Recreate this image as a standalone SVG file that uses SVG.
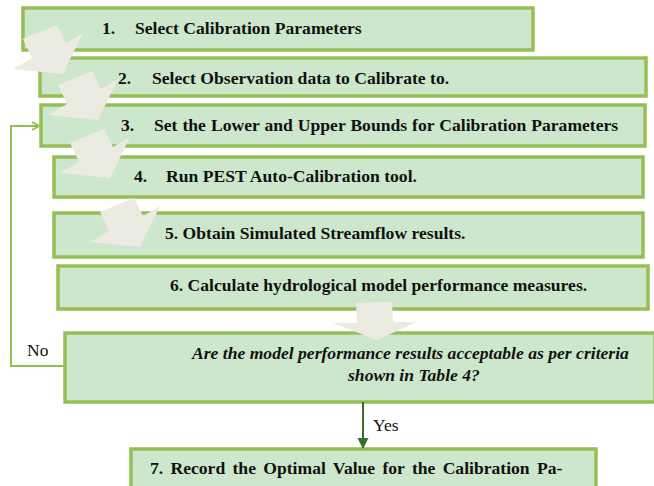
<svg xmlns="http://www.w3.org/2000/svg" width="654" height="486" viewBox="0 0 654 486">
<style>
.box{fill:#cde7cd;stroke:#95bf55;stroke-width:3.5}
.t{font-family:"Liberation Serif","Times New Roman",serif;font-size:17.6px;font-weight:bold;fill:#111}
.ti{font-style:italic}
.lbl{font-family:"Liberation Serif","Times New Roman",serif;font-size:17.5px;fill:#111}
.barrow{fill:#ecebe2}
.fb{fill:none;stroke:#95bf55;stroke-width:2}
</style>
<defs>
<polygon id="ba" points="0,0 34,-14 43,4 60,-6 40,35 -10,30 9,19"/>
<marker id="open" markerWidth="10" markerHeight="10" refX="8" refY="5" orient="auto" markerUnits="userSpaceOnUse">
<path d="M1,1 L8,5 L1,9" fill="none" stroke="#95bf55" stroke-width="2"/>
</marker>
<marker id="solid" markerWidth="12" markerHeight="12" refX="10" refY="6" orient="auto" markerUnits="userSpaceOnUse">
<path d="M0,0.5 L11,6 L0,11.5 Z" fill="#3f6b2c"/>
</marker>
</defs>
<g id="node1"><rect class="box" x="23" y="8" width="510" height="42"/>
<text class="t" x="102" y="34">1.</text><text class="t" x="135" y="34">Select Calibration Parameters</text></g>
<g id="node2"><rect class="box" x="40" y="58" width="606" height="38"/>
<text class="t" x="118" y="84">2.</text><text class="t" x="152" y="84">Select Observation data to Calibrate to.</text></g>
<g id="node3"><rect class="box" x="41" y="105" width="604" height="41"/>
<text class="t" x="121" y="131">3.</text><text class="t" x="154" y="131" word-spacing="0.6">Set the Lower and Upper Bounds for Calibration Parameters</text></g>
<g id="node4"><rect class="box" x="54" y="157" width="589" height="40"/>
<text class="t" x="134" y="182">4.</text><text class="t" x="166" y="182">Run PEST Auto-Calibration tool.</text></g>
<g id="node5"><rect class="box" x="54" y="213" width="589" height="44"/>
<text class="t" x="165" y="239">5. Obtain Simulated Streamflow results.</text></g>
<g id="node6"><rect class="box" x="58" y="266" width="590" height="43"/>
<text class="t" x="170" y="291">6. Calculate hydrological model performance measures.</text></g>
<g id="node7"><rect class="box" x="65" y="333" width="590" height="69"/>
<text class="t ti" x="192" y="359">Are the model performance results acceptable as per criteria</text>
<text class="t ti" x="348" y="381">shown in Table 4?</text></g>
<g id="node8"><rect class="box" x="131" y="449" width="465" height="45"/>
<text class="t" x="150" y="474" word-spacing="2.9">7. Record the Optimal Value for the Calibration Pa-</text></g>
<g id="connectors">
<use href="#ba" class="barrow" x="23" y="39"/>
<use href="#ba" class="barrow" x="58" y="85"/>
<use href="#ba" class="barrow" x="70" y="143"/>
<use href="#ba" class="barrow" x="100" y="212"/>
<polygon class="barrow" points="356,303 392,302 393,322 417,322 377,340 333,323 357,323"/>
<polyline class="fb" points="64,366 11,366 11,126 39,126" marker-end="url(#open)"/>
<line x1="363" y1="402" x2="363" y2="448" stroke="#3f6b2c" stroke-width="2" marker-end="url(#solid)"/>
<text class="lbl" x="27" y="356">No</text>
<text class="lbl" x="373" y="431">Yes</text>
</g>
</svg>
